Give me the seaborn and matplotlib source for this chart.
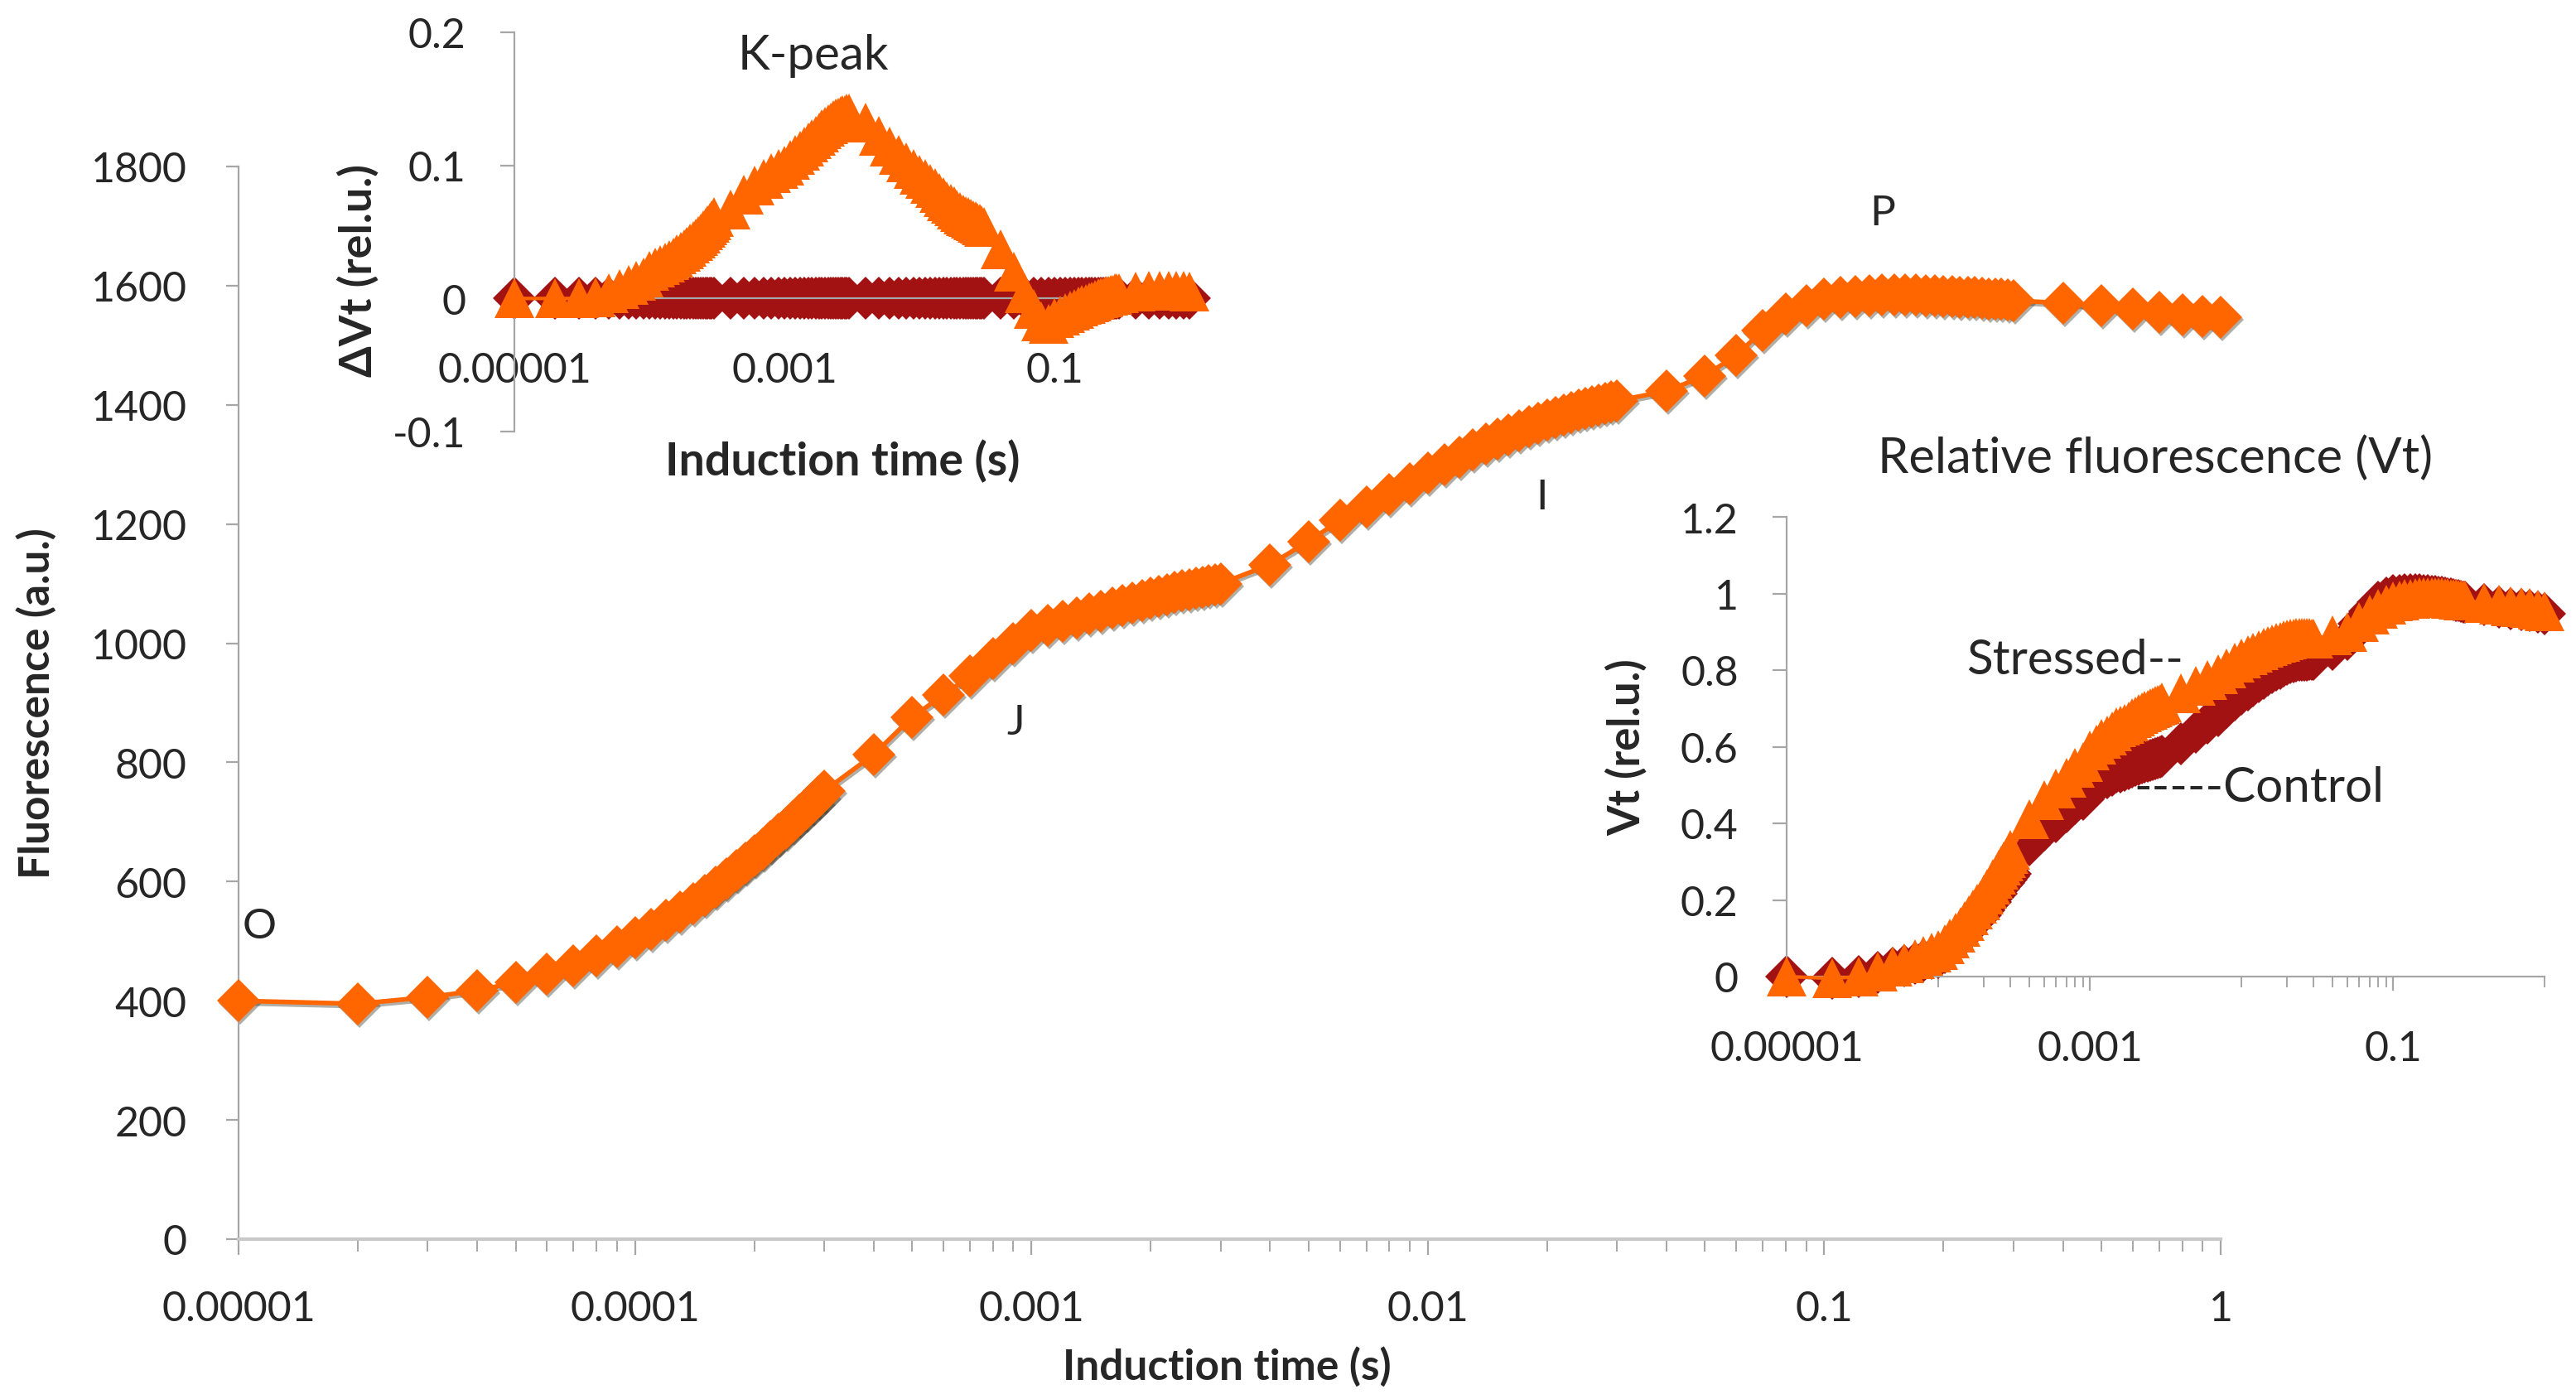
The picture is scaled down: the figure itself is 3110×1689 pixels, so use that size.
import numpy as np
import matplotlib
matplotlib.use("Agg")
import matplotlib.pyplot as plt
import matplotlib.ticker as mticker
from matplotlib.transforms import ScaledTranslation
import seaborn as sns

# sampling times of the fluorescence transient (microseconds)
time_us = [10, 20, 30, 40, 50, 60, 70, 80, 90, 100, 110, 120, 130, 140, 150,
           160, 170, 180, 190, 200, 210, 220, 230, 240, 250, 260, 270, 280, 290, 300,
           400, 500, 600, 700, 800, 900, 1000, 1100, 1200, 1300, 1400, 1500, 1600, 1700,
           1800, 1900, 2000, 2100, 2200, 2300, 2400, 2500, 2600, 2700, 2800, 2900, 3000,
           4000, 5000, 6000, 7000, 8000, 9000, 10000, 11000, 12000, 13000, 14000, 15000,
           16000, 17000, 18000, 19000, 20000, 21000, 22000, 23000, 24000, 25000, 26000,
           27000, 28000, 29000, 30000,
           40000, 50000, 60000, 70000, 80000, 90000, 100000, 110000, 120000, 130000,
           140000, 150000, 160000, 170000, 180000, 190000, 200000, 210000, 220000,
           230000, 240000, 250000, 260000, 270000, 280000, 290000, 300000,
           400000, 500000, 600000, 700000, 800000, 900000, 1000000]

# OJIP fluorescence (a.u.)
fluor = [400, 395, 406, 417, 431, 445, 459, 476, 491, 506, 520, 535, 549, 563, 577,
         591, 605, 618, 631, 643, 655, 667, 679, 690, 701, 712, 722, 732, 742, 752,
         813, 876, 913, 945, 975, 1000, 1022, 1030, 1037, 1043, 1049, 1054, 1059, 1064,
         1068, 1072, 1076, 1079, 1082, 1085, 1088, 1090, 1092, 1094, 1096, 1098, 1100,
         1132, 1171, 1206, 1229, 1250, 1268, 1286, 1300, 1312, 1324, 1334, 1343,
         1350, 1357, 1363, 1369, 1374, 1379, 1383, 1387, 1391, 1394, 1397,
         1400, 1402, 1405, 1407,
         1423, 1449, 1483, 1525, 1553, 1567, 1577, 1580, 1582, 1583,
         1584, 1584, 1584, 1584, 1583, 1583, 1582, 1582, 1581,
         1580, 1580, 1579, 1578, 1578, 1577, 1576, 1575,
         1571, 1566, 1561, 1556, 1551, 1549, 1547]

# relative variable fluorescence Vt
vt_stressed = [0.0, -0.005, 0.0, 0.012, 0.025, 0.035, 0.045, 0.055, 0.063, 0.07, 0.085, 0.10, 0.115, 0.13, 0.145,
               0.16, 0.175, 0.19, 0.20, 0.215, 0.23, 0.24, 0.255, 0.265, 0.28, 0.29, 0.30, 0.31, 0.32, 0.33,
               0.41, 0.46, 0.49, 0.52, 0.545, 0.56, 0.59, 0.605, 0.62, 0.63, 0.64, 0.65, 0.655, 0.66,
               0.667, 0.675, 0.68, 0.685, 0.69, 0.693, 0.697, 0.70, 0.703, 0.706, 0.709, 0.712, 0.715,
               0.74, 0.76, 0.775, 0.79, 0.805, 0.82, 0.83, 0.838, 0.845, 0.852, 0.858, 0.863,
               0.867, 0.871, 0.874, 0.877, 0.88, 0.882, 0.883, 0.884, 0.885, 0.885,
               0.885, 0.884, 0.884, 0.883, 0.883,
               0.89, 0.90, 0.925, 0.945, 0.96, 0.97, 0.98, 0.982, 0.985, 0.987,
               0.989, 0.99, 0.99, 0.99, 0.99, 0.99, 0.99, 0.99, 0.989,
               0.988, 0.987, 0.986, 0.985, 0.984, 0.983, 0.982, 0.981,
               0.976, 0.97, 0.967, 0.964, 0.962, 0.958, 0.953]

vt_control = [0.0, -0.005, 0.0, 0.011, 0.021, 0.028, 0.035, 0.042, 0.047, 0.049, 0.062, 0.075, 0.088, 0.101, 0.114,
              0.127, 0.14, 0.153, 0.161, 0.174, 0.187, 0.195, 0.208, 0.216, 0.229, 0.237, 0.245, 0.253, 0.261, 0.269,
              0.343, 0.382, 0.405, 0.43, 0.451, 0.463, 0.49, 0.501, 0.512, 0.519, 0.526, 0.533, 0.535, 0.538,
              0.542, 0.548, 0.551, 0.554, 0.558, 0.559, 0.562, 0.564, 0.566, 0.568, 0.571, 0.573, 0.576,
              0.608, 0.638, 0.661, 0.682, 0.703, 0.723, 0.737, 0.748, 0.759, 0.769, 0.779, 0.787,
              0.794, 0.80, 0.805, 0.81, 0.815, 0.819, 0.821, 0.823, 0.825, 0.826,
              0.827, 0.827, 0.828, 0.828, 0.829,
              0.853, 0.88, 0.921, 0.953, 0.977, 0.989, 0.995, 0.995, 0.996, 0.996,
              0.997, 0.996, 0.995, 0.994, 0.993, 0.992, 0.991, 0.99, 0.988,
              0.987, 0.985, 0.984, 0.982, 0.981, 0.979, 0.978, 0.977,
              0.971, 0.964, 0.961, 0.958, 0.956, 0.952, 0.948]

# difference curves (stressed - control), K-peak inset
dvt_stressed = [0.0, 0.0, 0.0, 0.001, 0.004, 0.007, 0.010, 0.013, 0.016, 0.021, 0.023, 0.025, 0.027, 0.029, 0.031,
                0.033, 0.035, 0.037, 0.039, 0.041, 0.043, 0.045, 0.047, 0.049, 0.051, 0.053, 0.055, 0.057, 0.059, 0.061,
                0.067, 0.078, 0.085, 0.090, 0.094, 0.097, 0.100, 0.104, 0.108, 0.111, 0.114, 0.117, 0.120, 0.122,
                0.125, 0.127, 0.129, 0.131, 0.132, 0.134, 0.135, 0.136, 0.137, 0.138, 0.138, 0.139, 0.139,
                0.132, 0.122, 0.114, 0.108, 0.102, 0.097, 0.093, 0.090, 0.086, 0.083, 0.079, 0.076,
                0.073, 0.071, 0.069, 0.067, 0.065, 0.063, 0.062, 0.061, 0.060, 0.059,
                0.058, 0.057, 0.056, 0.055, 0.054,
                0.037, 0.020, 0.004, -0.008, -0.017, -0.019, -0.015, -0.013, -0.011, -0.009,
                -0.008, -0.006, -0.005, -0.004, -0.003, -0.002, -0.001, 0.0, 0.001,
                0.001, 0.002, 0.002, 0.003, 0.003, 0.004, 0.004, 0.004,
                0.005, 0.006, 0.006, 0.006, 0.006, 0.006, 0.005]
dvt_control = [0.0] * len(time_us)

t = np.array(time_us) / 1e6

ORANGE = "#FF6600"
DARKRED = "#A31212"
AXGRAY = "#A6A6A6"
FONT = ["Lato", "DejaVu Sans"]

sns.set_style("white")
plt.rcParams["font.family"] = FONT

W, H = 3110, 1690
fig = plt.figure(figsize=(W / 100, H / 100), dpi=100)


def px_axes(x0, x1, y_top, y_bot):
    # axes rectangle given in image pixels
    return fig.add_axes([x0 / W, 1 - y_bot / H, (x1 - x0) / W, (y_bot - y_top) / H])


def series(ax, y, color, marker, ms, lw, z, **kw):
    sns.lineplot(x=t, y=y, ax=ax, color=color, marker=marker, markersize=ms,
                 markeredgewidth=0, linewidth=lw, estimator=None, sort=False,
                 clip_on=False, zorder=z, legend=False, **kw)


def style_axes(ax):
    ax.set_facecolor("none")
    for s in ["top", "right"]:
        ax.spines[s].set_visible(False)
    for s in ["left", "bottom"]:
        ax.spines[s].set_color(AXGRAY)
        ax.spines[s].set_linewidth(1.6)
    ax.set_xscale("log")
    ax.set_xlim(1e-5, 1)


# ---------------- main OJIP transient ----------------
ax = px_axes(288, 2681, 202, 1497)
style_axes(ax)
ax.spines["bottom"].set_linewidth(3)
ax.spines["bottom"].set_color("#C8C8C8")
shadow = ax.transData + ScaledTranslation(2 / 100, -3 / 100, fig.dpi_scale_trans)
series(ax, fluor, "#3d3526", "D", 26, 4, 2, transform=shadow, alpha=0.4)
series(ax, fluor, ORANGE, "D", 26, 4, 3)
ax.set_ylim(0, 1800)
ax.set_yticks(range(0, 1801, 200))
ax.set_xticks([1e-5, 1e-4, 1e-3, 1e-2, 1e-1, 1],
              labels=["0.00001", "0.0001", "0.001", "0.01", "0.1", "1"])
ax.xaxis.set_minor_locator(mticker.LogLocator(base=10, subs=range(2, 10), numticks=20))
ax.xaxis.set_minor_formatter(mticker.NullFormatter())
ax.tick_params(axis="y", which="major", length=11, width=1.6, color=AXGRAY,
               labelsize=36, pad=34, direction="out", left=True)
ax.tick_params(axis="x", which="major", length=14, width=1.6, color=AXGRAY,
               labelsize=36, pad=30, direction="out", bottom=True)
ax.tick_params(axis="x", which="minor", length=11, width=1.4, color=AXGRAY,
               direction="out", bottom=True)
for lab, (xt, yt) in {"O": (1.13e-5, 525), "J": (9.15e-4, 868),
                      "I": (0.0194, 1246), "P": (0.14, 1722)}.items():
    ax.text(xt, yt, lab, fontsize=37, ha="center", va="center")
fig.text(44 / W, 1 - 849 / H, "Fluorescence (a.u.)", rotation=90, fontsize=37,
         fontweight="bold", ha="center", va="center")
fig.text(1481 / W, 1 - 1650 / H, "Induction time (s)", fontsize=37,
         fontweight="bold", ha="center", va="center")

# inset tick layout (labels every second decade)
inset_major = [1e-5, 1e-3, 1e-1]
inset_labels = ["0.00001", "0.001", "0.1"]
inset_minor = [k * 1e-4 for k in range(1, 10)] + [k * 1e-2 for k in range(1, 10)] + [1.0]

# ---------------- inset: delta Vt (K-peak) ----------------
ax1 = px_axes(621, 1436, 40, 522)
style_axes(ax1)
ax1.spines["bottom"].set_position(("data", 0))
series(ax1, dvt_control, DARKRED, "D", 26, 3, 2)
series(ax1, dvt_stressed, ORANGE, "^", 34, 3, 3)
ax1.set_ylim(-0.1, 0.2)
ax1.set_yticks([-0.1, 0, 0.1, 0.2], labels=["-0.1", "0", "0.1", "0.2"])
ax1.set_xticks(inset_major, labels=inset_labels)
ax1.xaxis.set_minor_locator(mticker.FixedLocator(inset_minor))
ax1.xaxis.set_minor_formatter(mticker.NullFormatter())
ax1.tick_params(axis="y", length=12, width=1.6, color=AXGRAY, labelsize=36,
                pad=30, left=True)
ax1.tick_params(axis="x", which="major", length=12, width=1.6, color=AXGRAY,
                labelsize=36, pad=34, bottom=True)
ax1.tick_params(axis="x", which="minor", length=9, width=1.4, color=AXGRAY, bottom=True)
ax1.text(1.64e-3, 0.183, "K-peak", fontsize=42, ha="center", va="center")
fig.text(432 / W, 1 - 327 / H, "ΔVt (rel.u.)", rotation=90, fontsize=39,
         fontweight="bold", ha="center", va="center", family=FONT)
fig.text(1017 / W, 1 - 557 / H, "Induction time (s)", fontsize=40,
         fontweight="bold", ha="center", va="center")

# ---------------- inset: relative fluorescence Vt ----------------
ax2 = px_axes(2157, 3072, 625, 1180)
style_axes(ax2)
series(ax2, vt_control, DARKRED, "D", 26, 3, 2)
series(ax2, vt_stressed, ORANGE, "^", 34, 3, 3)
ax2.set_ylim(0, 1.2)
ax2.set_yticks([0, 0.2, 0.4, 0.6, 0.8, 1.0, 1.2],
               labels=["0", "0.2", "0.4", "0.6", "0.8", "1", "1.2"])
ax2.set_xticks(inset_major, labels=inset_labels)
ax2.xaxis.set_minor_locator(mticker.FixedLocator(inset_minor))
ax2.xaxis.set_minor_formatter(mticker.NullFormatter())
ax2.tick_params(axis="y", length=12, width=1.6, color=AXGRAY, labelsize=36,
                pad=30, left=True)
ax2.tick_params(axis="x", which="major", length=12, width=1.6, color=AXGRAY,
                labelsize=36, pad=34, bottom=True)
ax2.tick_params(axis="x", which="minor", length=9, width=1.4, color=AXGRAY, bottom=True)
fig.text(2602 / W, 1 - 553 / H, "Relative fluorescence (Vt)", fontsize=43,
         ha="center", va="center")
fig.text(1963 / W, 1 - 902 / H, "Vt (rel.u.)", rotation=90, fontsize=38,
         fontweight="bold", ha="center", va="center")
fig.text(2505 / W, 1 - 797 / H, "Stressed--", fontsize=42, ha="center", va="center")
fig.text(2727 / W, 1 - 952 / H, "-----Control", fontsize=42, ha="center", va="center")

fig.savefig("out.png", dpi=100, facecolor="white")
